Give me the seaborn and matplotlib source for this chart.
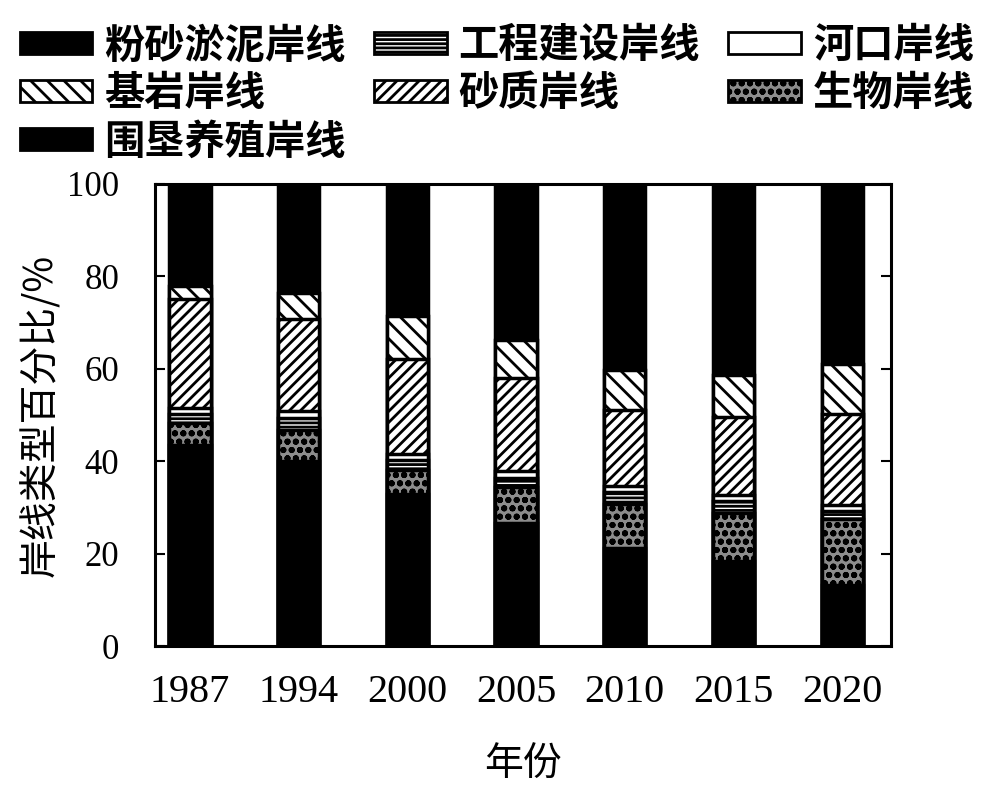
import pandas as pd
import seaborn as sns
from matplotlib import pyplot as plt
from matplotlib.patches import Patch

# Shoreline type share (%) per year, listed from the bottom of each bar upward
years = ["1987", "1994", "2000", "2005", "2010", "2015", "2020"]
silt_mud = [43.5, 40.0, 33.0, 26.6, 21.2, 18.4, 13.2]        # 粉砂淤泥岸线
biological = [4.8, 6.8, 5.0, 7.8, 9.6, 10.4, 14.2]           # 生物岸线
engineering = [2.0, 2.6, 2.2, 2.0, 2.6, 2.6, 1.8]            # 工程建设岸线
estuary = [1.2, 1.4, 1.4, 1.4, 1.3, 1.4, 1.4]                # 河口岸线
sandy = [23.5, 20.0, 20.6, 20.2, 16.4, 16.8, 19.6]           # 砂质岸线
bedrock = [3.0, 5.6, 9.3, 8.3, 8.7, 9.1, 10.9]               # 基岩岸线
reclamation = [22.0, 23.6, 28.5, 33.7, 40.2, 41.3, 38.9]     # 围垦养殖岸线

# name, values, face colour, hatch
layers = [
    ("粉砂淤泥岸线", silt_mud, "black", None),
    ("生物岸线", biological, "#8c8c8c", "oo"),
    ("工程建设岸线", engineering, "white", "----"),
    ("河口岸线", estuary, "white", None),
    ("砂质岸线", sandy, "white", "///"),
    ("基岩岸线", bedrock, "white", "\\\\"),
    ("围垦养殖岸线", reclamation, "black", None),
]

df = pd.DataFrame({"year": years})
running = 0
for name, vals, _, _ in layers:
    running = running + pd.Series(vals)
    df[name] = running

sns.set_style("ticks")
plt.rcParams.update({
    "hatch.linewidth": 2.0,
    "text.color": "black",
    "axes.labelcolor": "black",
    "axes.edgecolor": "black",
    "xtick.color": "black",
    "ytick.color": "black",
})
plt.rcParams["font.family"] = ["Liberation Serif", "Noto Sans CJK SC"]
cjk = ["Noto Sans CJK SC", "DejaVu Sans"]

fig = plt.figure(figsize=(9.88, 7.86), dpi=100)
ax = fig.add_axes([0.157, 0.178, 0.745, 0.588])

# stacked bars: draw cumulative totals from the top layer down
for name, _, face, hatch in reversed(layers):
    sns.barplot(
        data=df,
        x="year",
        y=name,
        order=years,
        color=face,
        saturation=1,
        hatch=hatch,
        edgecolor="black",
        linewidth=2.5,
        width=0.38,
        errorbar=None,
        ax=ax,
    )

ax.set_xlim(-0.32, 6.45)
ax.set_ylim(0, 100)
ax.set_yticks([0, 20, 40, 60, 80, 100])
ax.tick_params(axis="y", direction="in", length=7, width=1.5, labelsize=25,
               pad=26, right=True)
ax.tick_params(axis="x", direction="in", length=4, width=1.5, labelsize=29,
               pad=20)
for spine in ax.spines.values():
    spine.set_visible(True)
    spine.set_linewidth(2.2)

ax.set_xlabel("年份", family=cjk, fontsize=28, labelpad=24)
ax.set_ylabel("岸线类型百分比/%", family=cjk, fontsize=28, labelpad=4)

styles = {name: (face, hatch) for name, _, face, hatch in layers}
legend_order = ["粉砂淤泥岸线", "基岩岸线", "围垦养殖岸线",
                "工程建设岸线", "砂质岸线", "河口岸线", "生物岸线"]
handles = [
    Patch(facecolor=styles[n][0], hatch=styles[n][1], edgecolor="black",
          linewidth=2, label=n)
    for n in legend_order
]
fig.legend(
    handles=handles,
    loc="upper left",
    bbox_to_anchor=(0.02, 0.968),
    ncol=3,
    frameon=False,
    prop={"family": cjk, "size": 29, "weight": "bold"},
    handlelength=1.8,
    handleheight=0.45,
    handletextpad=0.3,
    columnspacing=0.7,
    labelspacing=0.18,
    borderaxespad=0,
    borderpad=0,
)

fig.savefig("out.png", dpi=100)
